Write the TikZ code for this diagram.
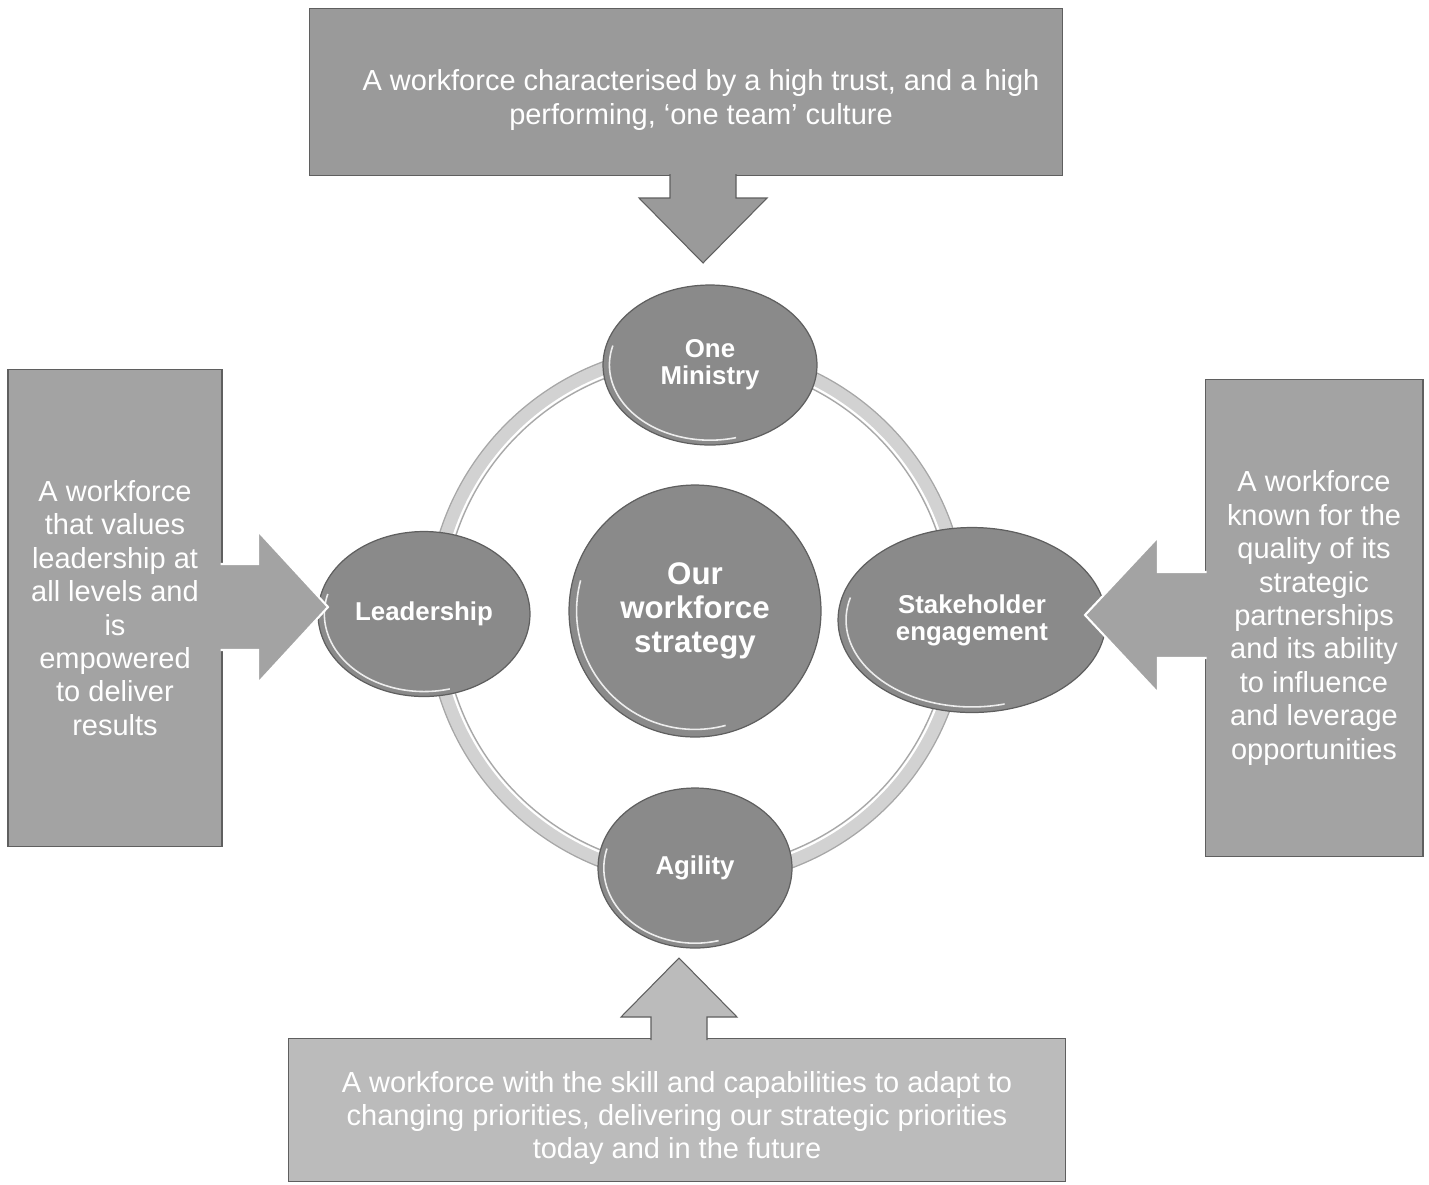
\documentclass[tikz,border=0pt]{standalone}
\usepackage{fontspec}
\setmainfont{Liberation Sans}
\usepackage{tikz}
\usetikzlibrary{shapes,arrows.meta,positioning,calc}

\definecolor{boxTop}{RGB}{154,154,154}
\definecolor{boxSide}{RGB}{163,163,163}
\definecolor{boxBottom}{RGB}{187,187,187}
\definecolor{bubbleGrey}{RGB}{138,138,138}
\definecolor{edgeGrey}{RGB}{95,95,95}
\definecolor{ringGrey}{RGB}{210,210,210}

% block arrow: #1 fill, #2 outline, #3 from, #4 tip, #5 stem half, #6 head half, #7 head length
\newcommand{\blockarrow}[7]{%
  \coordinate (ba) at ($(#4)!#7!(#3)$);
  \fill[#1] ($(#3)!#5!90:(#4)$) -- ($(ba)!#5!90:(#4)$) -- ($(ba)!#6!90:(#4)$) -- (#4)
    -- ($(ba)!#6!-90:(#4)$) -- ($(ba)!#5!-90:(#4)$) -- ($(#3)!#5!-90:(#4)$) -- cycle;
  \draw[#2] ($(#3)!#5!90:(#4)$) -- ($(ba)!#5!90:(#4)$) -- ($(ba)!#6!90:(#4)$) -- (#4)
    -- ($(ba)!#6!-90:(#4)$) -- ($(ba)!#5!-90:(#4)$) -- ($(#3)!#5!-90:(#4)$);
}
\newcommand{\lowerline}{\rule{0pt}{21pt}}

\begin{document}
\begin{tikzpicture}[x=0.02cm, y=-0.02cm,
  every node/.style={text=white, align=center},
  callout/.style={draw=edgeGrey, line width=0.6pt, inner sep=0pt,
    font=\fontsize{16.5}{19}\selectfont},
  bubble/.style={ellipse, fill=bubbleGrey, draw=edgeGrey, line width=0.7pt, inner sep=0pt,
    font=\bfseries\fontsize{14.7}{15.3}\selectfont,
    path picture={\draw[white!85!bubbleGrey, line width=0.9pt]
      let \p1=($(path picture bounding box.north east)-(path picture bounding box.center)$) in
      ($(path picture bounding box.center)+(165:0.94*\x1 and 0.94*\y1)$)
      arc[start angle=165, end angle=285, x radius=0.94*\x1, y radius=0.94*\y1];}}]
  \useasboundingbox (0,0) rectangle (1429,1184);

  % Ring
  \draw[edgeGrey!55, line width=10pt] (697,615) circle[radius=5.24cm];
  \draw[ringGrey, line width=8.4pt] (697,615) circle[radius=5.24cm];
  \draw[white, line width=1.2pt] (697,615) circle[radius=5.12cm];

  % Bubbles
  \node[bubble, minimum width=4.28cm, minimum height=3.2cm] (mini) at (710,365) {One\\Ministry};
  \node[bubble, minimum width=4.24cm, minimum height=3.3cm] (lead) at (424,614) {Leadership};
  \node[bubble, minimum width=5.36cm, minimum height=3.7cm] (stake) at (972,620) {Stakeholder\\engagement};
  \node[bubble, minimum width=3.88cm, minimum height=3.2cm] (agil) at (695,868) {Agility};
  \node[bubble, circle, minimum size=5.04cm, font=\bfseries\fontsize{17.8}{19.5}\selectfont] (core) at (695,611) {Our\\workforce\\strategy};

  % Callout boxes
  \node[callout, fill=boxTop, minimum width=15.06cm, minimum height=3.34cm] (topbox) at (686,92)
    {\lowerline\hspace*{0.6cm}A workforce characterised by a high trust, and a high\\\hspace*{0.6cm}performing, ‘one team’ culture};
  \node[callout, fill=boxSide, minimum width=4.28cm, minimum height=9.54cm] (leftbox) at (115,608)
    {A workforce\\that values\\leadership at\\all levels and\\is\\empowered\\to deliver\\results};
  \node[callout, fill=boxSide, minimum width=4.36cm, minimum height=9.54cm] (rightbox) at (1314,618)
    {A workforce\\known for the\\quality of its\\strategic\\partnerships\\and its ability\\to influence\\and leverage\\opportunities};
  \node[callout, fill=boxBottom, minimum width=15.56cm, minimum height=2.86cm] (botbox) at (677,1110)
    {\lowerline A workforce with the skill and capabilities to adapt to\\changing priorities, delivering our strategic priorities\\today and in the future};

  % Arrows
  \coordinate (toptip) at (703,263);
  \coordinate (topfrom) at ($(topbox.south -| toptip)+(0,-2)$);
  \blockarrow{fill=boxTop}{draw=edgeGrey, line width=0.6pt}{topfrom}{toptip}{0.66cm}{1.28cm}{1.30cm}
  \coordinate (lefttip) at (328,607);
  \coordinate (leftfrom) at ($(leftbox.east |- lefttip)+(-2,0)$);
  \blockarrow{fill=boxSide}{draw=white, line width=1.2pt}{leftfrom}{lefttip}{0.86cm}{1.52cm}{1.40cm}
  \coordinate (righttip) at (1085,615);
  \coordinate (rightfrom) at ($(rightbox.west |- righttip)+(2,0)$);
  \blockarrow{fill=boxSide}{draw=white, line width=1.2pt}{rightfrom}{righttip}{0.86cm}{1.56cm}{1.46cm}
  \coordinate (bottip) at (679,958);
  \coordinate (botfrom) at ($(botbox.north -| bottip)+(0,2)$);
  \blockarrow{fill=boxBottom}{draw=edgeGrey, line width=0.6pt}{botfrom}{bottip}{0.56cm}{1.16cm}{1.18cm}
\end{tikzpicture}
\end{document}
